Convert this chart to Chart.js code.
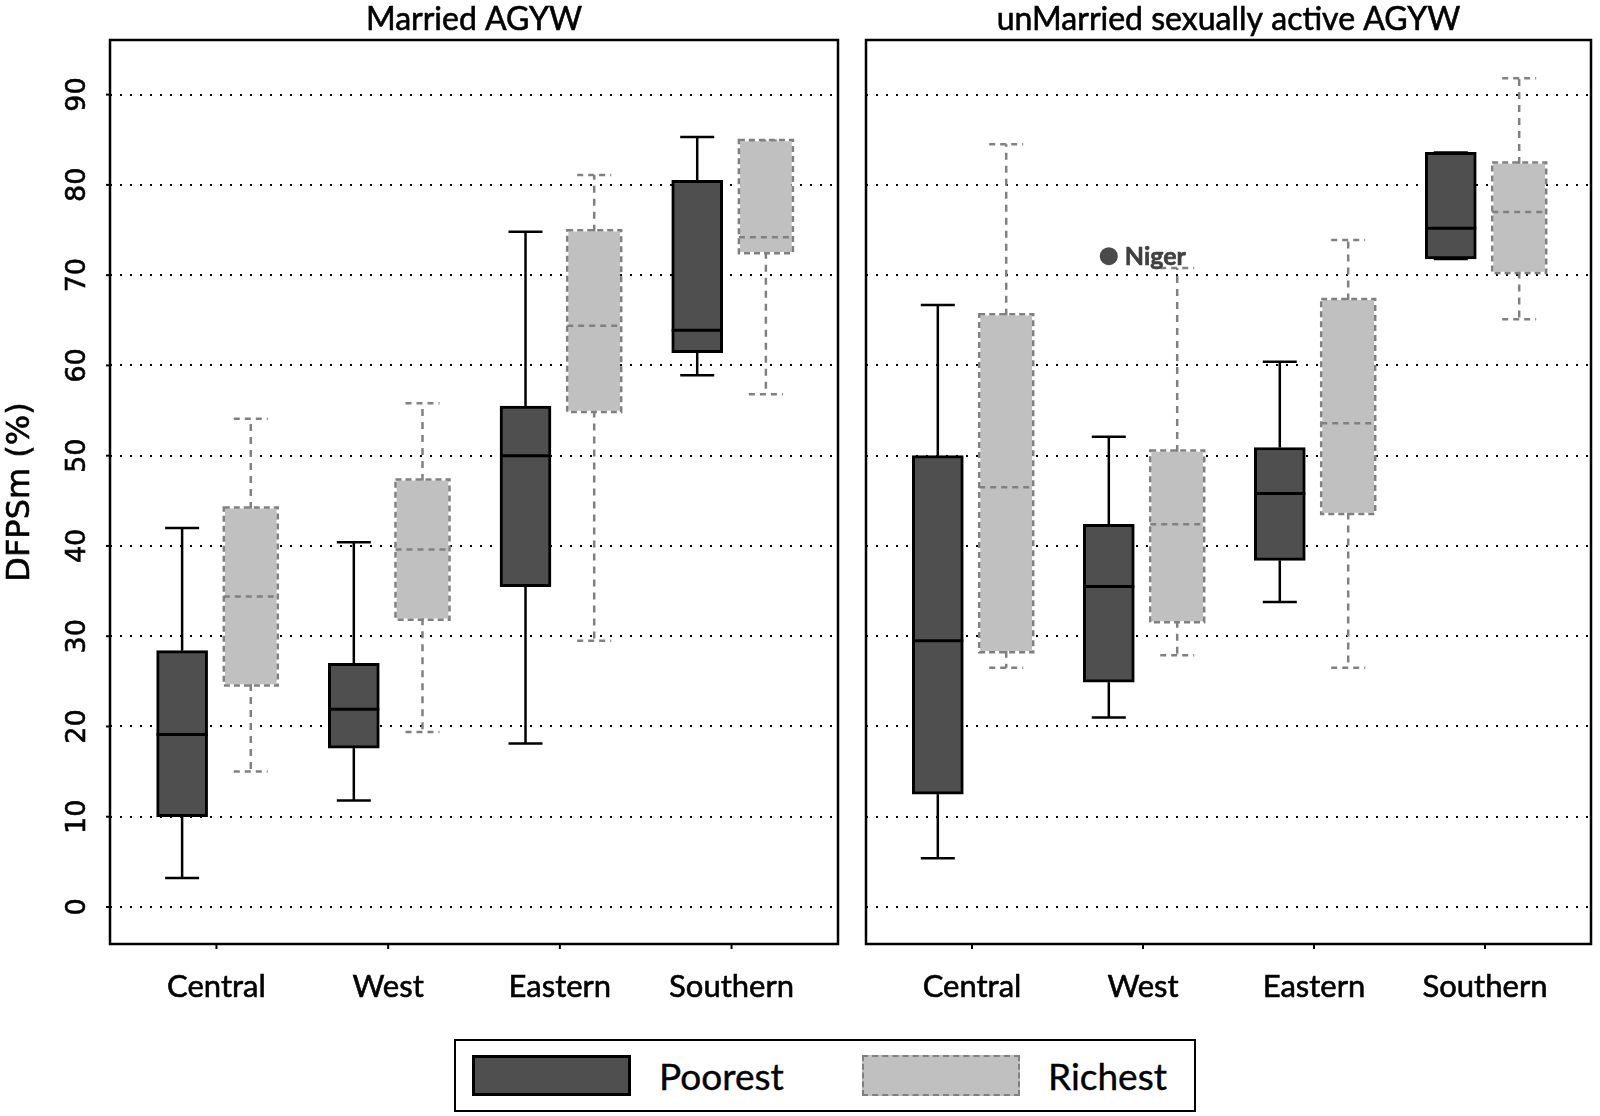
<!DOCTYPE html>
<html>
<head>
<meta charset="utf-8">
<script src="https://cdn.jsdelivr.net/npm/chart.js@4/dist/chart.umd.min.js"></script>
<style>
html,body{margin:0;padding:0;background:#fff;}
body{width:1600px;height:1116px;position:relative;overflow:hidden;}
#c1{position:absolute;left:0;top:0;}
#c2{position:absolute;left:850px;top:0;}
#legend{position:absolute;left:454px;top:1039px;width:742px;height:73px;border:2px solid #000;box-sizing:border-box;}
.sw{position:absolute;top:1055px;height:41px;box-sizing:border-box;}
#sw1{left:472px;width:159px;background:#4f4f4f;border:3px solid #000;}
#sw2{left:862px;width:158px;background:#c0c0c0;border:2px dashed #808080;}
.lt{position:absolute;top:1056px;height:40px;line-height:40px;font-family:Lato,sans-serif;font-size:37px;color:#000;white-space:nowrap;-webkit-text-stroke:0.4px #000;}
</style>
</head>
<body>
<canvas id="c1" width="850" height="1030"></canvas>
<canvas id="c2" width="750" height="1030"></canvas>
<div id="legend"></div>
<div class="sw" id="sw1"></div>
<div class="lt" style="left:659px">Poorest</div>
<div class="sw" id="sw2"></div>
<div class="lt" style="left:1048px">Richest</div>
<script>
// ---------- data ----------
const categories = ['Central', 'West', 'Eastern', 'Southern'];
const yTickValues = [0, 10, 20, 30, 40, 50, 60, 70, 80, 90];
const panelTitles = ['Married AGYW', 'unMarried sexually active AGYW'];
const yAxisTitle = 'DFPSm (%)';
const seriesNames = ['Poorest', 'Richest'];

// Married AGYW
const marPoorMin = [3.2, 11.8, 18.1, 58.9];
const marPoorQ1  = [10.0, 17.6, 35.5, 61.4];
const marPoorMed = [19.1, 21.9, 50.0, 63.9];
const marPoorQ3  = [28.4, 27.0, 55.5, 80.5];
const marPoorMax = [42.0, 40.4, 74.8, 85.3];
const marRichMin = [15.0, 19.4, 29.5, 56.8];
const marRichQ1  = [24.7, 32.0, 55.0, 72.6];
const marRichMed = [34.4, 39.6, 64.4, 74.2];
const marRichQ3  = [44.1, 47.2, 74.8, 84.8];
const marRichMax = [54.1, 55.8, 81.1, 84.9];

// unMarried sexually active AGYW
const unPoorMin = [5.4, 21.0, 33.8, 71.8];
const unPoorQ1  = [12.5, 24.9, 38.4, 71.8];
const unPoorMed = [29.5, 35.5, 45.8, 75.2];
const unPoorQ3  = [50.0, 42.4, 50.9, 83.6];
const unPoorMax = [66.7, 52.1, 60.4, 83.6];
const unRichMin = [26.5, 27.9, 26.5, 65.1];
const unRichQ1  = [28.4, 31.7, 43.7, 70.4];
const unRichMed = [46.5, 42.4, 53.6, 77.0];
const unRichQ3  = [65.5, 50.4, 67.2, 82.3];
const unRichMax = [84.5, 70.8, 73.9, 91.8];

// outlier
const outlierLabel = 'Niger';
const outlierCategory = 'West';
const outlierValue = 72.1;

// ---------- helpers ----------
const POOR_OFFSET = -0.2, RICH_OFFSET = 0.2;

function line(ctx, x1, y1, x2, y2) {
  ctx.beginPath(); ctx.moveTo(x1, y1); ctx.lineTo(x2, y2); ctx.stroke();
}

function boxDataset(kind, min, q1, med, q3, max) {
  const off = kind === 'poor' ? POOR_OFFSET : RICH_OFFSET;
  return {
    type: 'bar',
    label: kind === 'poor' ? seriesNames[0] : seriesNames[1],
    kind: kind,
    stats: {min, q1, med, q3, max},
    data: categories.map((c, i) => ({x: i + 1 + off, y: [q1[i], q3[i]]})),
    backgroundColor: kind === 'poor' ? '#4f4f4f' : '#c0c0c0',
    borderColor: '#000',
    borderWidth: kind === 'poor' ? 3 : 0,
    borderSkipped: false,
    barThickness: 51,
    grouped: false
  };
}

// thicken canvas text slightly (reference text is heavy)
const textWeightPlugin = {
  id: 'textWeight',
  beforeDraw(chart) {
    const ctx = chart.ctx;
    if (ctx._wrapped) return;
    ctx._wrapped = true;
    const orig = ctx.fillText.bind(ctx);
    ctx.fillText = function (t, x, y, m) {
      orig(t, x, y, m);
      const lw = ctx.lineWidth, ss = ctx.strokeStyle, ld = ctx.getLineDash();
      ctx.lineWidth = 0.6; ctx.strokeStyle = ctx.fillStyle; ctx.setLineDash([]);
      ctx.strokeText(t, x, y, m);
      ctx.lineWidth = lw; ctx.strokeStyle = ss; ctx.setLineDash(ld);
    };
  }
};

const boxPlugin = {
  id: 'boxplot',
  beforeDatasetsDraw(chart) {
    const ctx = chart.ctx, ys = chart.scales.y;
    chart.data.datasets.forEach((ds, i) => {
      if (!ds.stats) return;
      const rich = ds.kind === 'rich';
      const meta = chart.getDatasetMeta(i);
      ctx.save();
      ctx.strokeStyle = rich ? '#808080' : '#000';
      ctx.lineWidth = 2.5;
      meta.data.forEach((el, j) => {
        const x = el.x, w = el.width, cap = w / 3;
        const yMin = ys.getPixelForValue(ds.stats.min[j]);
        const yMax = ys.getPixelForValue(ds.stats.max[j]);
        const yQ1 = ys.getPixelForValue(ds.stats.q1[j]);
        const yQ3 = ys.getPixelForValue(ds.stats.q3[j]);
        ctx.setLineDash(rich ? [7, 6] : []);
        line(ctx, x, yQ3, x, yMax);
        line(ctx, x, yQ1, x, yMin);
        ctx.setLineDash(rich ? [6, 5] : []);
        line(ctx, x - cap, yMax, x + cap, yMax);
        line(ctx, x - cap, yMin, x + cap, yMin);
      });
      ctx.restore();
    });
  },
  afterDatasetsDraw(chart) {
    const ctx = chart.ctx, ys = chart.scales.y, xs = chart.scales.x;
    const ca = chart.chartArea;
    chart.data.datasets.forEach((ds, i) => {
      const meta = chart.getDatasetMeta(i);
      if (ds.stats) {
        const rich = ds.kind === 'rich';
        ctx.save();
        meta.data.forEach((el, j) => {
          const x = el.x, w = el.width;
          const yMed = ys.getPixelForValue(ds.stats.med[j]);
          const yQ1 = ys.getPixelForValue(ds.stats.q1[j]);
          const yQ3 = ys.getPixelForValue(ds.stats.q3[j]);
          if (rich) {
            ctx.strokeStyle = '#808080';
            ctx.lineWidth = 2.5;
            ctx.setLineDash([6, 4]);
            ctx.strokeRect(x - w / 2 - 1.5, yQ3 - 1.5, w + 3, (yQ1 - yQ3) + 3);
            ctx.setLineDash([6, 5]);
            line(ctx, x - w / 2 - 1.5, yMed, x + w / 2 + 1.5, yMed);
          } else {
            ctx.strokeStyle = '#000';
            ctx.lineWidth = 3;
            ctx.setLineDash([]);
            line(ctx, x - w / 2, yMed, x + w / 2, yMed);
          }
        });
        ctx.restore();
      } else if (ds.pointText) {
        ctx.save();
        const el = meta.data[0];
        ctx.font = 'bold 25px Lato';
        ctx.fillStyle = '#404040';
        ctx.textBaseline = 'middle';
        ctx.textAlign = 'left';
        ctx.fillText(ds.pointText, el.x + 16, el.y + 1);
        ctx.restore();
      }
    });
    // frame and tick marks
    ctx.save();
    ctx.setLineDash([]);
    ctx.strokeStyle = '#000';
    ctx.lineWidth = 2.5;
    ctx.strokeRect(ca.left, ca.top, ca.right - ca.left, ca.bottom - ca.top);
    ctx.lineWidth = 2;
    if (chart.options.showYTickMarks) {
      ys.ticks.forEach(t => {
        const y = ys.getPixelForValue(t.value);
        line(ctx, ca.left - 4, y, ca.left, y);
      });
    }
    xs.ticks.forEach(t => {
      const x = xs.getPixelForValue(t.value);
      line(ctx, x, ca.bottom, x, ca.bottom + 5);
    });
    ctx.restore();
  }
};

function makePanel(canvasId, title, datasets, showY) {
  return new Chart(document.getElementById(canvasId), {
    type: 'bar',
    data: {datasets},
    plugins: [textWeightPlugin, boxPlugin],
    options: {
      responsive: false,
      animation: false,
      events: [],
      showYTickMarks: showY,
      layout: {padding: {left: 0, right: showY ? 12 : 7, top: 0, bottom: 0}},
      plugins: {
        legend: {display: false},
        tooltip: {enabled: false},
        title: {
          display: true, text: title, fullSize: false,
          font: {family: 'Lato', size: 32, weight: 'normal'}, color: '#000',
          padding: {top: 0, bottom: 1.6}
        }
      },
      scales: {
        x: {
          type: 'linear', min: 0.38, max: 4.62, offset: false,
          afterBuildTicks: s => { s.ticks = categories.map((c, i) => ({value: i + 1})); },
          afterFit: s => { s.height = 86; },
          ticks: {
            callback: v => categories[Math.round(v) - 1],
            font: {family: 'Lato', size: 31}, color: '#000', padding: 24,
            autoSkip: false, maxRotation: 0, minRotation: 0
          },
          grid: {display: false, drawTicks: false, offset: false},
          border: {display: false}
        },
        y: {
          type: 'linear', min: -4.1, max: 96.05,
          afterBuildTicks: s => { s.ticks = yTickValues.map(v => ({value: v})); },
          afterFit: s => { s.width = showY ? 110 : 16; },
          ticks: {
            display: showY,
            font: {family: 'DejaVu Sans', size: 27}, color: '#000',
            minRotation: 90, maxRotation: 90, crossAlign: 'center', padding: 15
          },
          grid: {color: '#000', lineWidth: 2, drawTicks: false},
          border: {display: false, dash: [2, 8]},
          title: {
            display: showY, text: yAxisTitle,
            font: {family: 'DejaVu Sans', size: 32}, color: '#000',
            padding: {top: 1, bottom: 0}
          }
        }
      }
    }
  });
}

const marDatasets = [
  boxDataset('poor', marPoorMin, marPoorQ1, marPoorMed, marPoorQ3, marPoorMax),
  boxDataset('rich', marRichMin, marRichQ1, marRichMed, marRichQ3, marRichMax)
];
const unDatasets = [
  {
    type: 'scatter',
    label: outlierLabel,
    pointText: outlierLabel,
    data: [{x: categories.indexOf(outlierCategory) + 1 + POOR_OFFSET, y: outlierValue}],
    pointRadius: 9,
    backgroundColor: '#4a4a4a',
    borderWidth: 0
  },
  boxDataset('poor', unPoorMin, unPoorQ1, unPoorMed, unPoorQ3, unPoorMax),
  boxDataset('rich', unRichMin, unRichQ1, unRichMed, unRichQ3, unRichMax)
];

makePanel('c1', panelTitles[0], marDatasets, true);
makePanel('c2', panelTitles[1], unDatasets, false);
</script>
</body>
</html>
